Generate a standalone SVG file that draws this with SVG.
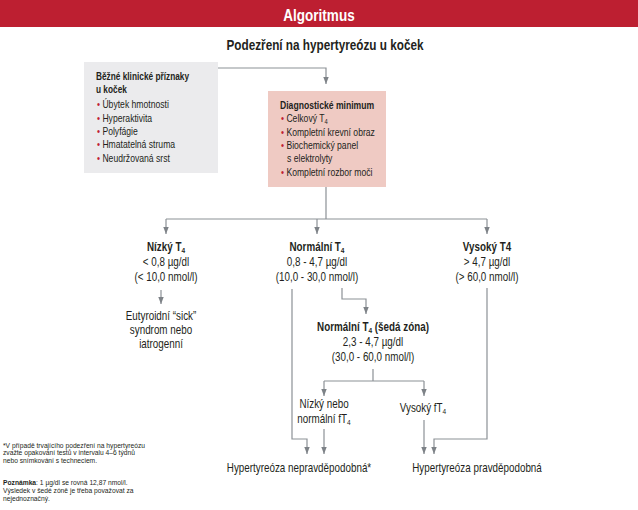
<svg xmlns="http://www.w3.org/2000/svg" width="638" height="510" viewBox="0 0 638 510">
<style>
text{font-family:"Liberation Sans",Arial,sans-serif;fill:#231f20}
.b{font-weight:bold}
.m{text-anchor:middle;font-size:12px}
.bx{font-size:10.5px}
.bh{font-size:10.5px;font-weight:bold}
.fn{font-size:6.7px}
.bul{fill:#c0202f}
.c{fill:none;stroke:#8c9196;stroke-width:1.2}
</style>
<defs>
<marker id="a" markerWidth="7" markerHeight="9" refX="9" refY="3.5" orient="auto" markerUnits="userSpaceOnUse" viewBox="0 0 9 7">
<path d="M0,0 L9,3.5 L0,7 Z" fill="#7d8287"/>
</marker>
</defs>
<rect x="0" y="0" width="638" height="27" fill="#bd1f31"/>
<text transform="translate(319,20.5) scale(.82,1)" style="fill:#fff;font-size:16.5px;font-weight:bold;text-anchor:middle">Algoritmus</text>
<text transform="translate(325,50) scale(.81,1)" style="font-size:14.5px;font-weight:bold;text-anchor:middle">Podezření na hypertyreózu u koček</text>

<g id="connectors">
<path class="c" marker-end="url(#a)" d="M218,68 H326 V84"/>
<path class="c" d="M326,187 V219 M166,219 H487"/>
<path class="c" marker-end="url(#a)" d="M166,219 V234"/>
<path class="c" marker-end="url(#a)" d="M317,219 V234"/>
<path class="c" marker-end="url(#a)" d="M487,219 V234"/>
<path class="c" marker-end="url(#a)" d="M161,290 V304"/>
<path class="c" marker-end="url(#a)" d="M342,288 V299 H366 V314"/>
<path class="c" marker-end="url(#a)" d="M292,289 V439 H307 V454"/>
<path class="c" d="M373,369 V381 M324,381 H424"/>
<path class="c" marker-end="url(#a)" d="M324,381 V396"/>
<path class="c" marker-end="url(#a)" d="M424,381 V396"/>
<path class="c" marker-end="url(#a)" d="M324,429 V454"/>
<path class="c" marker-end="url(#a)" d="M424,420 V454"/>
<path class="c" marker-end="url(#a)" d="M487,288 V439 H434 V454"/>
</g>

<g id="symptoms">
<rect x="84" y="62" width="134" height="111" fill="#ebebed"/>
<text transform="translate(96,80) scale(.79,1)" class="bh">Běžné klinické příznaky</text>
<text transform="translate(96,93) scale(.79,1)" class="bh">u koček</text>
<text transform="translate(97,108) scale(.82,1)" class="bx"><tspan class="bul">•</tspan> Úbytek hmotnosti</text>
<text transform="translate(97,122) scale(.82,1)" class="bx"><tspan class="bul">•</tspan> Hyperaktivita</text>
<text transform="translate(97,135) scale(.82,1)" class="bx"><tspan class="bul">•</tspan> Polyfágie</text>
<text transform="translate(97,148) scale(.82,1)" class="bx"><tspan class="bul">•</tspan> Hmatatelná struma</text>
<text transform="translate(97,162) scale(.82,1)" class="bx"><tspan class="bul">•</tspan> Neudržovaná srst</text>
</g>

<g id="diagnostic">
<rect x="268" y="91" width="118" height="96" fill="#efcac3"/>
<text transform="translate(280,109) scale(.82,1)" class="bh">Diagnostické minimum</text>
<text transform="translate(281,122) scale(.82,1)" class="bx"><tspan class="bul">•</tspan> Celkový T<tspan font-size="7" dy="2">4</tspan></text>
<text transform="translate(281,136) scale(.82,1)" class="bx"><tspan class="bul">•</tspan> Kompletní krevní obraz</text>
<text transform="translate(281,149) scale(.82,1)" class="bx"><tspan class="bul">•</tspan> Biochemický panel</text>
<text transform="translate(287,162) scale(.82,1)" class="bx">s elektrolyty</text>
<text transform="translate(281,176) scale(.82,1)" class="bx"><tspan class="bul">•</tspan> Kompletní rozbor moči</text>
</g>

<g id="low">
<text transform="translate(166,251) scale(.82,1)" class="m b">Nízký T<tspan font-size="8" dy="2">4</tspan></text>
<text transform="translate(166,266) scale(.82,1)" class="m">&lt; 0,8 µg/dl</text>
<text transform="translate(166,281) scale(.82,1)" class="m">(&lt; 10,0 nmol/l)</text>
</g>

<g id="euthyroid">
<text transform="translate(161,320) scale(.82,1)" class="m">Eutyroidní “sick”</text>
<text transform="translate(161,334) scale(.82,1)" class="m">syndrom nebo</text>
<text transform="translate(161,348) scale(.82,1)" class="m">iatrogenní</text>
</g>

<g id="normal">
<text transform="translate(317,251) scale(.82,1)" class="m b">Normální T<tspan font-size="8" dy="2">4</tspan></text>
<text transform="translate(317,266) scale(.82,1)" class="m">0,8 - 4,7 µg/dl</text>
<text transform="translate(317,281) scale(.82,1)" class="m">(10,0 - 30,0 nmol/l)</text>
</g>

<g id="high">
<text transform="translate(487,251) scale(.82,1)" class="m b">Vysoký T4</text>
<text transform="translate(487,266) scale(.82,1)" class="m">&gt; 4,7 µg/dl</text>
<text transform="translate(487,281) scale(.82,1)" class="m">(&gt; 60,0 nmol/l)</text>
</g>

<g id="grayzone">
<text transform="translate(373,331) scale(.82,1)" class="m b">Normální T<tspan font-size="8" dy="2">4</tspan><tspan dy="-2"> (šedá zóna)</tspan></text>
<text transform="translate(373,346) scale(.82,1)" class="m">2,3 - 4,7 µg/dl</text>
<text transform="translate(373,361) scale(.82,1)" class="m">(30,0 - 60,0 nmol/l)</text>
</g>

<g id="lowft4">
<text transform="translate(324,408) scale(.82,1)" class="m">Nízký nebo</text>
<text transform="translate(324,423) scale(.82,1)" class="m">normální fT<tspan font-size="8" dy="2">4</tspan></text>
</g>

<g id="highft4">
<text transform="translate(423,412) scale(.82,1)" class="m">Vysoký fT<tspan font-size="8" dy="2">4</tspan></text>
</g>

<g id="unlikely">
<text transform="translate(299,472) scale(.82,1)" class="m">Hypertyreóza nepravděpodobná*</text>
</g>

<g id="likely">
<text transform="translate(477,472) scale(.82,1)" class="m">Hypertyreóza pravděpodobná</text>
</g>

<g id="notes">
<text x="3" y="447.5" class="fn">*V případě trvajícího podezření na hypertyreózu</text>
<text x="3" y="455" class="fn">zvažte opakování testů v intervalu 4–6 týdnů</text>
<text x="3" y="462.5" class="fn">nebo snímkování s techneciem.</text>
<text x="3" y="485" class="fn"><tspan font-weight="bold">Poznámka</tspan>: 1 µg/dl se rovná 12,87 nmol/l.</text>
<text x="3" y="493" class="fn">Výsledek v šedé zóně je třeba považovat za</text>
<text x="3" y="500.5" class="fn">nejednoznačný.</text>
</g>
</svg>
